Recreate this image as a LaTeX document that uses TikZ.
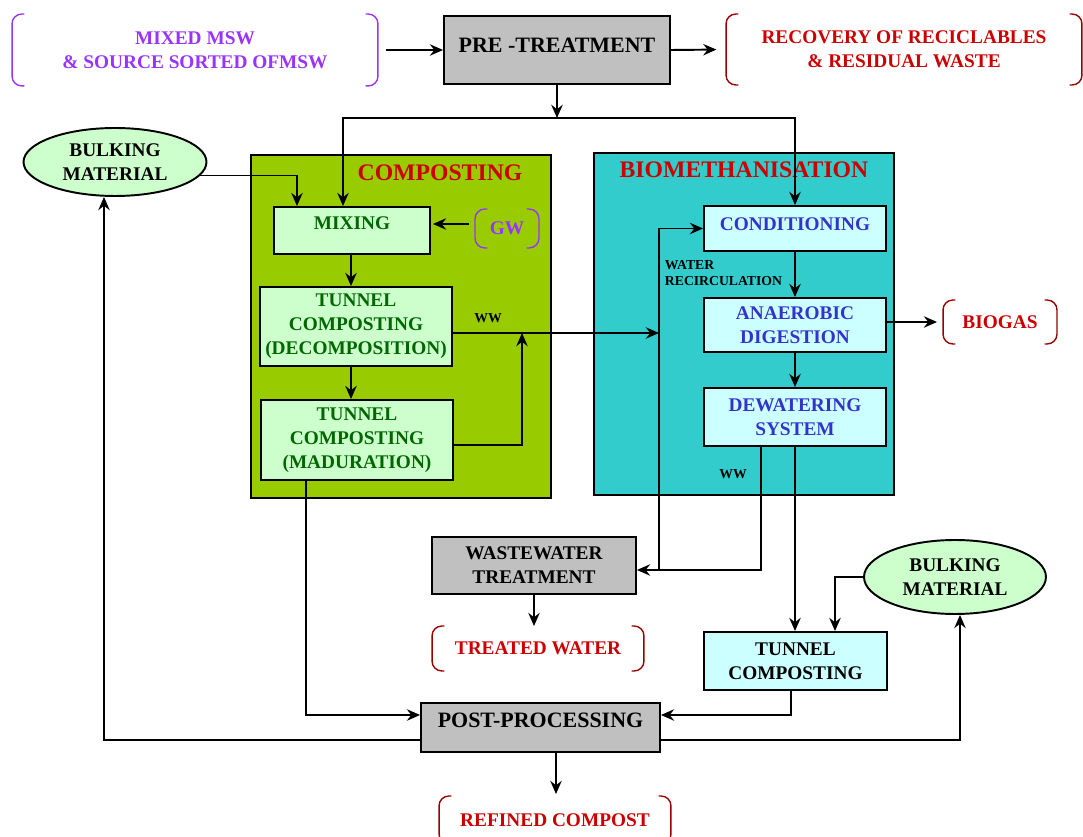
\documentclass[tikz,border=0pt]{standalone}
\usepackage{fontspec}
\setmainfont{Liberation Serif}
\usetikzlibrary{arrows.meta,calc,shapes.geometric}

\definecolor{msw}{HTML}{9933FF}
\definecolor{outred}{HTML}{CC0000}
\definecolor{bracketred}{HTML}{990000}
\definecolor{procgray}{HTML}{C0C0C0}
\definecolor{compgreen}{HTML}{99CC00}
\definecolor{biocyan}{HTML}{33CCCC}
\definecolor{palegreen}{HTML}{CCFFCC}
\definecolor{palecyan}{HTML}{CCFFFF}
\definecolor{textgreen}{HTML}{006600}
\definecolor{textblue}{HTML}{3333CC}

% round brackets on both sides of a named node
\newcommand{\bracketnode}[2]{%
  \draw[#2, thick, rounded corners=5.5pt] ([xshift=7pt]#1.north west) -- (#1.north west) -- (#1.south west) -- ([xshift=7pt]#1.south west);
  \draw[#2, thick, rounded corners=5.5pt] ([xshift=-7pt]#1.north east) -- (#1.north east) -- (#1.south east) -- ([xshift=-7pt]#1.south east);}

\begin{document}
\begin{tikzpicture}[x=0.02cm, y=-0.02cm, line width=1.1pt, font=\bfseries\fontsize{11}{13.6}\selectfont]
    % `process' is used for the grey treatment boxes.
    % `stage' is used for the steps inside the two plants.
    % `region' is used for the two background plants.
    \tikzstyle{process} = [draw,fill=procgray,inner sep=0pt,align=center]
    \tikzstyle{stage} = [draw,inner sep=0pt,align=center]
    \tikzstyle{region} = [draw,inner sep=0pt]
    \tikzstyle{bulking} = [draw,ellipse,fill=palegreen,inner sep=0pt,align=center]
    \tikzstyle{output} = [inner sep=0pt,align=center]
    \tikzstyle{title} = [font=\bfseries\fontsize{13.5}{16}\selectfont,text=outred]
    \tikzstyle{note} = [font=\bfseries\fontsize{7.8}{9}\selectfont,align=left,inner sep=0pt]
    \tikzstyle{flow} = [-{Stealth[length=7.5pt,width=6.5pt,inset=2.5pt]}]
    %
    \useasboundingbox (0,0) rectangle (1083,837);
    %
    % Top row.
    \node[output, text=msw, minimum width=7.28cm, minimum height=1.4cm] (input) at (195,50)
      {MIXED MSW\\\& SOURCE SORTED OFMSW};
    \node[process, minimum width=4.52cm, minimum height=1.36cm, text depth=5.7pt,
      font=\bfseries\fontsize{12.5}{15}\selectfont] (pre) at (557,50) {PRE -TREATMENT};
    \node[output, text=outred, minimum width=7.08cm, minimum height=1.38cm] (recovery) at (904,49.5)
      {RECOVERY OF RECICLABLES\\\& RESIDUAL WASTE};
    \bracketnode{input}{msw}
    \bracketnode{recovery}{bracketred}
    \coordinate (split) at (557,118);
    %
    % Background plants.
    \node[region, fill=compgreen, minimum width=6cm, minimum height=6.86cm] (comp) at (401,326.5) {};
    \node[region, fill=biocyan, minimum width=6cm, minimum height=6.84cm] (bio) at (744,324) {};
    \node[title] (comptitle) at (440,173) {COMPOSTING};
    \node[title] (biotitle) at (744,170) {BIOMETHANISATION};
    %
    % Composting plant.
    \node[bulking, minimum width=3.66cm, minimum height=1.36cm] (bulk1) at (115,162) {BULKING\\MATERIAL};
    \node[stage, fill=palegreen, text=textgreen, minimum width=3.12cm, minimum height=0.94cm,
      text depth=8.5pt] (mixing) at (352,230.5) {MIXING};
    \node[output, text=msw, minimum width=1.24cm, minimum height=0.74cm] (gw) at (507,228.5) {GW};
    \bracketnode{gw}{msw}
    \node[stage, fill=palegreen, text=textgreen, minimum width=3.84cm, minimum height=1.58cm] (decomp)
      at (356,326.5) {TUNNEL\\COMPOSTING\\(DECOMPOSITION)};
    \node[stage, fill=palegreen, text=textgreen, minimum width=3.84cm, minimum height=1.6cm] (madur)
      at (357,440) {TUNNEL\\COMPOSTING\\(MADURATION)};
    \node[note] (ww1) at (488,318) {WW};
    %
    % Biomethanisation plant.
    \node[stage, fill=palecyan, text=textblue, minimum width=3.64cm, minimum height=0.9cm,
      text depth=5.1pt] (cond) at (795,228.5) {CONDITIONING};
    \node[stage, fill=palecyan, text=textblue, minimum width=3.64cm, minimum height=1.08cm] (anaer)
      at (795,325) {ANAEROBIC\\DIGESTION};
    \node[stage, fill=palecyan, text=textblue, minimum width=3.64cm, minimum height=1.16cm] (dewat)
      at (795,417) {DEWATERING\\SYSTEM};
    \node[output, text=outred, minimum width=2.24cm, minimum height=0.84cm] (biogas) at (1000,322) {BIOGAS};
    \bracketnode{biogas}{bracketred}
    \node[note, anchor=west] (recirclabel) at (664,273) {WATER\\RECIRCULATION};
    \node[note] (ww2) at (733,474) {WW};
    \coordinate (wwin) at (659,333);
    \coordinate (wwjoin) at (522,333);
    \coordinate (recirc) at (659,570);
    %
    % Lower part.
    \node[process, minimum width=4.08cm, minimum height=1.14cm] (wwt) at (534,565.5) {WASTEWATER\\TREATMENT};
    \node[output, text=outred, minimum width=4.2cm, minimum height=0.86cm] (treated) at (538,648.5) {TREATED WATER};
    \bracketnode{treated}{bracketred}
    \node[stage, fill=palecyan, minimum width=3.66cm, minimum height=1.16cm] (tunnel) at (795.5,661)
      {TUNNEL\\COMPOSTING};
    \node[bulking, minimum width=3.64cm, minimum height=1.48cm] (bulk2) at (955,577) {BULKING\\MATERIAL};
    \node[process, minimum width=4.78cm, minimum height=0.98cm, text depth=8.5pt,
      font=\bfseries\fontsize{12.5}{15}\selectfont] (post) at (540.5,727.5) {POST-PROCESSING};
    \node[output, text=outred, minimum width=4.6cm, minimum height=0.92cm] (refined) at (555,820) {REFINED COMPOST};
    \bracketnode{refined}{bracketred}
    %
    % Draw connectors.
    \draw[flow, shorten <=4.5pt] (input.east) -- (pre.west);
    \draw[flow, shorten >=5.5pt] (pre.east) -- (recovery.west);
    \draw[flow] (pre.south) -- (split);
    \draw[flow] (split) -| ($(mixing.north)+(-9,0)$);
    \draw[flow] (split) -| (cond.north);
    \draw[flow] (bulk1.-9) -| ($(mixing.north)+(-55,0)$);
    \draw[flow] ($(gw.west)+(-6,-4.5)$) -- ($(mixing.east)+(2,-6.5)$);
    \draw[flow] ($(mixing.south)+(-1,0)$) -- ($(decomp.north)+(-5,0)$);
    \draw[flow] ($(decomp.south)+(-5,0)$) -- ($(madur.north)+(-6,0)$);
    \draw[flow] ($(decomp.east)+(0,6.5)$) -- (wwin);
    \draw[flow] ($(madur.east)+(0,5)$) -| (wwjoin);
    \draw[flow] ($(dewat.south)+(-34,0)$) |- ($(wwt.east)+(0,4.5)$);
    \draw[flow] (recirc) |- (cond.west);
    \draw[flow] (cond.south) -- (anaer.north);
    \draw[flow] (anaer.south) -- (dewat.north);
    \draw[flow] ($(anaer.east)+(0,-3)$) -- ($(biogas.west)+(-6,0)$);
    \draw[flow] (dewat.south) -- (dewat.south |- tunnel.north);
    \draw[flow] (bulk2.west) -| ($(tunnel.north)+(39.5,0)$);
    \draw[flow] ($(tunnel.south)+(-4.5,0)$) |- ($(post.east)+(0,-12.5)$);
    \draw[flow] ($(madur.south)+(-51,0)$) |- ($(post.west)+(0,-12.5)$);
    \draw[flow] ($(post.east)+(0,12.5)$) -| ($(bulk2.south)+(5,0)$);
    \draw[flow] ($(post.west)+(0,12.5)$) -| ($(bulk1.south)+(-11,0)$);
    \draw[flow] (wwt.south) -- (wwt.south |- treated.north);
    \draw[flow] ($(post.south)+(15.5,0)$) -- ($(refined.north)+(1,-2)$);
\end{tikzpicture}
\end{document}
